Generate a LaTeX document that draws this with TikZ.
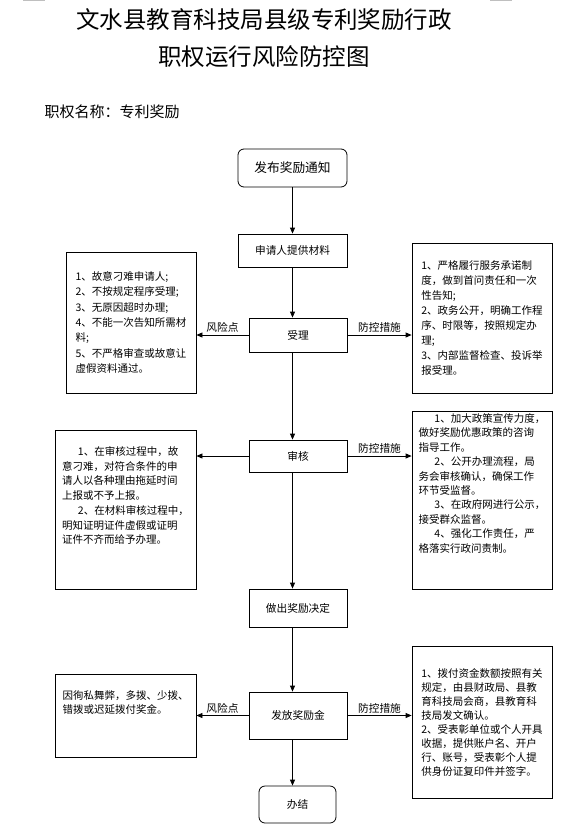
\documentclass[tikz,border=0pt]{standalone}
\usepackage{fontspec}
\setmainfont{Noto Sans CJK SC}
\usetikzlibrary{positioning,arrows.meta}

\begin{document}
\begin{tikzpicture}[x=1pt, y=1pt, >={Triangle[length=6pt,width=5pt]}, line width=0.8pt,
    flowbox/.style={draw, inner sep=0pt, font=\fontsize{10.7}{13}\selectfont},
    roundbox/.style={flowbox, rounded corners=6pt},
    notebox/.style={draw, inner sep=0pt, align=left},
    tag/.style={above, inner sep=2pt, font=\fontsize{10.7}{13}\selectfont}]
    \useasboundingbox (0,0) rectangle (579,-833);
    \draw[gray!50, line width=1.5pt] (23,-0.6) -- (45,-0.6);
    \draw[gray!50, line width=1.5pt] (490,-0.6) -- (512,-0.6);

    % Title
    \node[font=\fontsize{23.5}{37}\selectfont, align=center] (title) at (264,-38.5) {文水县教育科技局县级专利奖励行政\\职权运行风险防控图};
    \node[font=\fontsize{15}{18}\selectfont, anchor=west] (name) at (41,-112) {职权名称：专利奖励};

    % Nodes
    \node[roundbox, minimum width=109pt, minimum height=38pt, font=\fontsize{12.7}{15}\selectfont] (notice) at (292.5,-168) {发布奖励通知};
    \node[flowbox, minimum width=109pt, minimum height=33pt] (apply) at (292.5,-250.5) {申请人提供材料};
    \node[flowbox, minimum width=98pt, minimum height=34pt] (accept) at (298,-335) {受理};
    \node[flowbox, minimum width=98pt, minimum height=32pt] (review) at (298,-456) {审核};
    \node[flowbox, minimum width=98pt, minimum height=38pt] (decide) at (298,-608) {做出奖励决定};
    \node[flowbox, minimum width=98pt, minimum height=47pt] (pay) at (298,-715.5) {发放奖励金};
    \node[roundbox, minimum width=77pt, minimum height=37pt] (done) at (297.5,-804.5) {办结};

    \node[notebox, minimum width=130pt, minimum height=141pt, font=\fontsize{10.5}{15.3}\selectfont] (risk1) at (131,-322.5) {1、故意刁难申请人;\\2、不按规定程序受理;\\3、无原因超时办理;\\4、不能一次告知所需材\\料;\\5、不严格审查或故意让\\虚假资料通过。};
    \node[notebox, minimum width=140pt, minimum height=150pt, font=\fontsize{10.5}{15}\selectfont] (ctrl1) at (482,-318) {1、严格履行服务承诺制\\度，做到首问责任和一次\\性告知;\\2、政务公开，明确工作程\\序、时限等，按照规定办\\理;\\3、内部监督检查、投诉举\\报受理。};
    \node[notebox, minimum width=141pt, minimum height=159pt, font=\fontsize{10.5}{14.7}\selectfont] (risk2) at (125.5,-509.5) {\hspace*{1.5em}1、在审核过程中，故\\意刁难，对符合条件的申\\请人以各种理由拖延时间\\上报或不予上报。\\\hspace*{1.5em}2、在材料审核过程中，\\明知证明证件虚假或证明\\证件不齐而给予办理。\\[14pt]};
    \node[notebox, minimum width=140pt, minimum height=178pt, font=\fontsize{10.5}{14.4}\selectfont] (ctrl2) at (482,-500) {\hspace*{1.5em}1、加大政策宣传力度，\\做好奖励优惠政策的咨询\\指导工作。\\\hspace*{1.5em}2、公开办理流程，局\\务会审核确认，确保工作\\环节受监督。\\\hspace*{1.5em}3、在政府网进行公示，\\接受群众监督。\\\hspace*{1.5em}4、强化工作责任，严\\格落实行政问责制。\\[20pt]};
    \node[notebox, minimum width=141pt, minimum height=83pt, font=\fontsize{10.5}{14}\selectfont] (risk3) at (125.5,-715.5) {因徇私舞弊，多拨、少拨、\\错拨或迟延拨付奖金。\\[12pt]};
    \node[notebox, minimum width=140pt, minimum height=152pt, font=\fontsize{10.5}{14}\selectfont] (ctrl3) at (482,-722) {1、拨付资金数额按照有关\\规定，由县财政局、县教\\育科技局会商，县教育科\\技局发文确认。\\2、受表彰单位或个人开具\\收据，提供账户名、开户\\行、账号，受表彰个人提\\供身份证复印件并签字。};

    % Connections
    \draw[->] (notice) -- (apply);
    \draw[->] (apply) -- (apply |- accept.north);
    \draw[->] (accept.south -| apply) -- (apply |- review.north);
    \draw[->] (review.south -| apply) -- (apply |- decide.north);
    \draw[->] (decide.south -| apply) -- (apply |- pay.north);
    \draw[->] (pay.south -| apply) -- (apply |- done.north);

    % Risk and control paths
    \draw[->] (accept) -- node[tag] {风险点} (accept -| risk1.east);
    \draw[->] (accept) -- node[tag] {防控措施} (accept -| ctrl1.west);
    \draw[->] (review) -- (review -| risk2.east);
    \draw[->] (review) -- node[tag] {防控措施} (review -| ctrl2.west);
    \draw[->] (pay) -- node[tag] {风险点} (pay -| risk3.east);
    \draw[->] (pay) -- node[tag] {防控措施} (pay -| ctrl3.west);
\end{tikzpicture}
\end{document}
